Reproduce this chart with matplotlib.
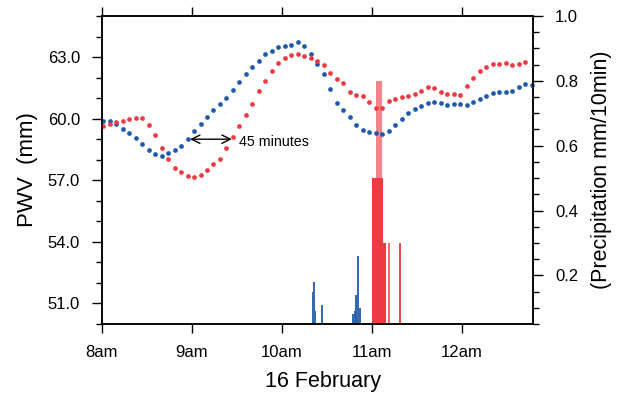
import numpy as np
import matplotlib
matplotlib.use('Agg')
import matplotlib.pyplot as plt
from matplotlib.ticker import FixedLocator, FormatStrFormatter

plt.rcParams['font.family'] = ['Liberation Sans', 'DejaVu Sans']

# ---------------- data ----------------
# PWV samples (minutes after 08:00), regular sampling grid
sample_start_min = 0.9
sample_step_min = 4.33

blue_pwv = [59.89, 59.89, 59.73, 59.49, 59.31, 59.08, 58.76, 58.46, 58.30, 58.20,
            58.32, 58.48, 58.67, 59.02, 59.40, 59.73, 60.07, 60.41, 60.72, 61.03,
            61.39, 61.80, 62.19, 62.53, 62.82, 63.13, 63.31, 63.51, 63.52, 63.60,
            63.73, 63.55, 63.16, 62.67, 62.16, 61.44, 60.76, 60.43, 60.06, 59.70,
            59.45, 59.33, 59.29, 59.26, 59.40, 59.68, 59.96, 60.28, 60.46, 60.60,
            60.74, 60.79, 60.74, 60.66, 60.71, 60.71, 60.67, 60.79, 60.97, 61.08,
            61.23, 61.31, 61.31, 61.34, 61.54, 61.68, 61.63]

red_pwv = [59.65, 59.76, 59.84, 59.88, 59.98, 60.01, 60.01, 59.68, 59.21, 58.56,
           58.04, 57.62, 57.39, 57.21, 57.18, 57.28, 57.50, 57.77, 58.02, 58.56,
           59.13, 59.62, 60.17, 60.72, 61.34, 61.84, 62.33, 62.71, 62.97, 63.11,
           63.13, 63.03, 62.94, 62.82, 62.61, 62.22, 61.93, 61.73, 61.30, 61.15,
           61.08, 60.82, 60.54, 60.54, 60.87, 60.97, 61.05, 61.11, 61.18, 61.36,
           61.55, 61.50, 61.31, 61.21, 61.21, 61.16, 61.57, 61.98, 62.32, 62.53,
           62.64, 62.68, 62.69, 62.61, 62.64, 62.76]

# precipitation (mm/10min), time in minutes after 08:00
blue_prec_t = [140.5, 141.6, 142.5, 146.6, 167.6, 168.6, 169.5, 170.7, 171.9]
blue_prec = [0.15, 0.18, 0.09, 0.11, 0.08, 0.09, 0.14, 0.26, 0.10]

red_peak_t = [184.7]
red_peak = [0.80]
red_prec_t = [181.0, 182.0, 183.0, 184.0, 185.0, 186.0, 187.0, 188.5, 191.4, 198.6]
red_prec = [0.50, 0.50, 0.50, 0.50, 0.50, 0.50, 0.50, 0.30, 0.30, 0.30]

hour_ticks = [0, 60, 120, 180, 240]
hour_labels = ['8am', '9am', '10am', '11am', '12am']
pwv_ticks = [51, 54, 57, 60, 63]
prec_ticks = [0.2, 0.4, 0.6, 0.8, 1.0]

# ---------------- plot ----------------
BLUE = '#1f5aa8'
RED = '#ee3a44'
LIGHT_RED = '#f2858a'

t_blue = sample_start_min + sample_step_min * np.arange(len(blue_pwv))
t_red = sample_start_min + sample_step_min * np.arange(len(red_pwv))

fig = plt.figure(figsize=(6.18, 3.94), dpi=100)
ax = fig.add_axes([0.1646, 0.1777, 0.6974, 0.7817])
ax2 = ax.twinx()
ax.set_zorder(ax2.get_zorder() + 1)
ax.patch.set_visible(False)

# bars on right axis
ax2.bar(red_peak_t, red_peak, width=4.0, color=LIGHT_RED, linewidth=0)
widths = [1.5] * 8 + [1.3, 1.3]
colors = [RED] * 8 + ['#f36a72', '#f04a53']
for t, v, w, c in zip(red_prec_t, red_prec, widths, colors):
    ax2.bar(t, v, width=w, color=c, linewidth=0)
ax2.bar(blue_prec_t, blue_prec, width=1.3, color=BLUE, alpha=0.9, linewidth=0)

# PWV dots on left axis
ax.plot(t_blue, blue_pwv, 'o', ms=3.4, color=BLUE, mec='none', clip_on=False)
ax.plot(t_red, red_pwv, 'o', ms=3.4, color=RED, mec='none', clip_on=False)

# annotation
ax.annotate('', xy=(86.7, 59.0), xytext=(58.9, 59.0),
            arrowprops=dict(arrowstyle='<->,head_length=0.6,head_width=0.3',
                            color='black', lw=1.0, shrinkA=0, shrinkB=0))
ax.text(91.7, 58.86, '45 minutes', fontsize=10.3, ha='left', va='center')

# axes limits / ticks
ax.set_xlim(0, 287.3)
ax.set_xticks(hour_ticks)
ax.set_xticklabels(hour_labels)
ax.tick_params(axis='x', which='major', direction='out', length=6.8, width=1.0,
               top=True, labeltop=False, pad=8.5, labelsize=12)

ax.set_ylim(50, 65)
ax.yaxis.set_major_locator(FixedLocator(pwv_ticks))
ax.yaxis.set_minor_locator(FixedLocator(list(range(50, 66))))
ax.yaxis.set_major_formatter(FormatStrFormatter('%.1f'))
ax.tick_params(axis='y', which='major', direction='out', length=7.2, width=1.0,
               pad=8.4, labelsize=12)
ax.tick_params(axis='y', which='minor', direction='out', length=4.6, width=1.0)

ax2.set_ylim(0.05, 1.0)
ax2.yaxis.set_major_locator(FixedLocator(prec_ticks))
ax2.yaxis.set_minor_locator(FixedLocator([0.05 * k for k in range(1, 21)]))
ax2.yaxis.set_major_formatter(FormatStrFormatter('%.1f'))
ax2.tick_params(axis='y', which='major', direction='out', length=7.2, width=1.0,
                pad=9, labelsize=12)
ax2.tick_params(axis='y', which='minor', direction='out', length=4.6, width=1.0)

for a in (ax, ax2):
    for s in a.spines.values():
        s.set_linewidth(1.1)

ax.set_ylabel('PWV  (mm)', fontsize=16)
ax.yaxis.set_label_coords(-0.149, 0.5)
ax2.set_ylabel('(Precipitation mm/10min)', fontsize=15.5)
ax2.yaxis.set_label_coords(1.135, 0.5)
ax.set_xlabel('16 February', fontsize=15.5)
ax.xaxis.set_label_coords(0.513, -0.153)

fig.savefig('out.png', dpi=100)
